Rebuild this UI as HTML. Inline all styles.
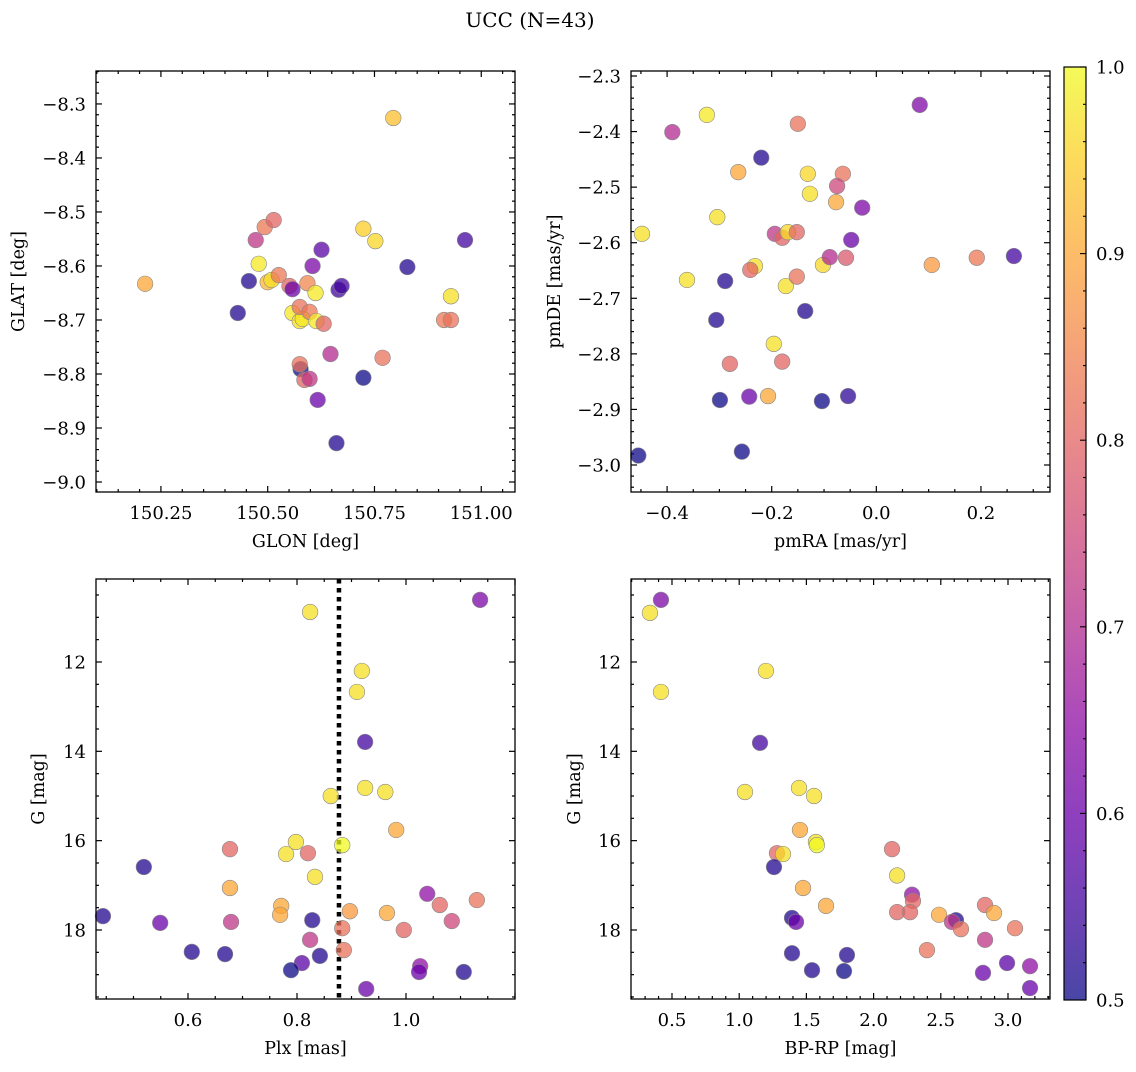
<!DOCTYPE html>
<html><head><meta charset="utf-8"><style>
html,body{margin:0;padding:0;background:#fff}
svg text{font-family:"DejaVu Serif","Liberation Serif",serif;fill:#000}
</style></head><body>
<svg id="chart" width="1136" height="1067" viewBox="0 0 1136 1067" xmlns="http://www.w3.org/2000/svg">
<defs>
<linearGradient id="plasma" x1="0" y1="1" x2="0" y2="0">
<stop offset="0" stop-color="#0d0887"/><stop offset="0.1" stop-color="#41049d"/><stop offset="0.2" stop-color="#6a00a8"/><stop offset="0.3" stop-color="#8f0da4"/><stop offset="0.4" stop-color="#b12a90"/><stop offset="0.5" stop-color="#cc4778"/><stop offset="0.6" stop-color="#e16462"/><stop offset="0.7" stop-color="#f2844b"/><stop offset="0.8" stop-color="#fca636"/><stop offset="0.9" stop-color="#fcce25"/><stop offset="1" stop-color="#f0f921"/>
</linearGradient>
</defs>
<text x="530" y="27" font-size="20" text-anchor="middle">UCC (N=43)</text>
</svg>
<script>
// ---- data ----
const tlGlon=[150.213,150.794,150.472,150.493,150.514,150.456,150.430,150.479,150.500,150.509,150.526,150.551,150.558,150.558,150.575,150.582,150.575,150.593,150.598,150.605,150.612,150.614,150.631,150.626,150.666,150.673,150.724,150.752,150.827,150.962,150.929,150.913,150.929,150.647,150.577,150.575,150.586,150.598,150.769,150.724,150.617,150.661];
const tlGlat=[-8.633,-8.326,-8.552,-8.528,-8.515,-8.628,-8.687,-8.596,-8.630,-8.626,-8.617,-8.637,-8.643,-8.687,-8.702,-8.698,-8.676,-8.632,-8.685,-8.600,-8.650,-8.702,-8.707,-8.570,-8.644,-8.637,-8.531,-8.554,-8.602,-8.552,-8.656,-8.700,-8.700,-8.763,-8.791,-8.782,-8.811,-8.809,-8.770,-8.807,-8.848,-8.928];
const tlProb=[0.9,0.93,0.72,0.83,0.8,0.52,0.52,0.98,0.92,0.97,0.83,0.8,0.6,0.98,0.97,0.98,0.82,0.85,0.83,0.62,0.98,0.98,0.8,0.58,0.55,0.55,0.95,0.96,0.52,0.55,0.97,0.83,0.82,0.7,0.5,0.82,0.8,0.72,0.82,0.5,0.6,0.52];

const trPmra=[-0.324,-0.390,0.083,-0.150,-0.220,-0.264,-0.131,-0.127,-0.064,-0.077,-0.075,-0.027,-0.448,-0.304,-0.362,-0.289,-0.232,-0.241,-0.194,-0.180,-0.169,-0.152,-0.173,-0.152,-0.102,-0.089,-0.058,-0.048,0.106,0.192,0.263,-0.306,-0.136,-0.196,-0.280,-0.180,-0.207,-0.243,-0.299,-0.054,-0.104,-0.455,-0.257];
const trPmde=[-2.370,-2.401,-2.352,-2.386,-2.447,-2.473,-2.476,-2.512,-2.476,-2.527,-2.498,-2.537,-2.584,-2.554,-2.667,-2.669,-2.642,-2.649,-2.584,-2.591,-2.581,-2.581,-2.678,-2.661,-2.640,-2.626,-2.627,-2.595,-2.640,-2.627,-2.624,-2.739,-2.723,-2.782,-2.818,-2.814,-2.876,-2.877,-2.883,-2.876,-2.885,-2.983,-2.976];
const trProb=[0.98,0.7,0.63,0.82,0.52,0.9,0.96,0.97,0.82,0.9,0.75,0.62,0.97,0.97,0.97,0.52,0.97,0.8,0.72,0.8,0.96,0.8,0.97,0.82,0.96,0.7,0.78,0.6,0.88,0.83,0.55,0.52,0.52,0.97,0.8,0.8,0.9,0.6,0.5,0.53,0.5,0.5,0.5];

const blPlx=[0.824,1.136,0.919,0.910,0.925,0.862,0.925,0.962,0.982,0.798,0.780,0.820,0.883,0.677,0.833,0.519,0.677,0.771,0.769,1.039,0.444,0.549,0.679,0.828,0.897,0.965,1.062,1.084,1.130,0.883,0.996,0.824,0.607,0.668,0.886,0.842,0.809,0.789,1.026,1.024,1.106,0.927];
const blG=[10.88,10.61,12.20,12.67,13.79,15.00,14.82,14.91,15.76,16.03,16.30,16.28,16.10,16.19,16.81,16.59,17.06,17.46,17.66,17.19,17.69,17.84,17.82,17.78,17.58,17.62,17.44,17.80,17.33,17.96,18.00,18.22,18.49,18.54,18.45,18.58,18.74,18.90,18.81,18.94,18.94,19.32];
const blProb=[0.97,0.62,0.97,0.97,0.55,0.97,0.97,0.97,0.9,0.97,0.97,0.8,1.0,0.8,0.97,0.52,0.9,0.9,0.9,0.65,0.52,0.6,0.72,0.52,0.88,0.9,0.8,0.75,0.82,0.82,0.8,0.72,0.52,0.52,0.82,0.52,0.58,0.5,0.65,0.6,0.52,0.6];
const plxMedian=0.877;

const brBpRp=[0.336,0.418,0.418,1.199,1.155,1.043,1.445,1.557,1.452,1.571,1.578,1.281,1.326,2.137,2.175,1.259,1.475,1.646,2.286,2.293,2.487,2.175,2.271,2.829,2.896,2.613,2.583,1.393,1.423,2.650,3.052,2.829,2.397,1.393,1.802,2.993,1.780,1.542,2.814,3.164,3.164];
const brG=[10.90,10.61,12.67,12.20,13.81,14.91,14.82,15.00,15.76,16.03,16.10,16.28,16.30,16.19,16.78,16.59,17.06,17.46,17.21,17.35,17.66,17.60,17.60,17.44,17.62,17.78,17.82,17.73,17.82,17.98,17.96,18.22,18.45,18.52,18.56,18.74,18.92,18.90,18.96,18.81,19.30];
const brProb=[0.97,0.62,0.97,0.97,0.55,0.97,0.97,0.97,0.9,0.97,1.0,0.8,0.97,0.8,0.97,0.52,0.9,0.9,0.65,0.8,0.9,0.8,0.8,0.8,0.9,0.52,0.72,0.52,0.6,0.82,0.82,0.72,0.82,0.52,0.52,0.58,0.5,0.52,0.6,0.65,0.6];

const cbTicks=[0.5,0.6,0.7,0.8,0.9,1.0];

// ---- rendering ----
const NS="http://www.w3.org/2000/svg";
const svg=document.getElementById('chart');
function mk(tag,attrs,parent){const e=document.createElementNS(NS,tag);for(const k in attrs)e.setAttribute(k,attrs[k]);(parent||svg).appendChild(e);return e;}
const stops=[[13,8,135],[65,4,157],[106,0,168],[143,13,164],[177,42,144],[204,71,120],[225,100,98],[242,132,75],[252,166,54],[252,206,37],[240,249,33]];
function plasma(p){let t=Math.max(0,Math.min(1,(p-0.5)/0.5))*10;const i=Math.min(9,Math.floor(t)),f=t-i;const a=stops[i],b=stops[i+1];return 'rgb('+a.map((v,k)=>Math.round(v+(b[k]-v)*f)).join(',')+')';}
function fmt(v,d){const s=Math.abs(v).toFixed(d);return (v<-1e-9?'\u2212':'')+s;}
const FS=18;

function panel(o){
  const g=mk('g',{});
  
  
  const [L,T,R,B]=o.box;
  const sx=v=>L+(v-o.xd[0])/(o.xd[1]-o.xd[0])*(R-L);
  const sy=o.yinv?(v=>T+(v-o.yd[0])/(o.yd[1]-o.yd[0])*(B-T)):(v=>B-(v-o.yd[0])/(o.yd[1]-o.yd[0])*(B-T));
  const eps=1e-9;
  const tg=mk('g',{stroke:'#000','stroke-width':1.2},g);
  const xlo=Math.min(...o.xd),xhi=Math.max(...o.xd),ylo=Math.min(...o.yd),yhi=Math.max(...o.yd);
  for(let v=Math.ceil(xlo/o.xmin)*o.xmin;v<=xhi+eps;v+=o.xmin){const x=sx(v);const major=Math.abs(v/o.xmaj-Math.round(v/o.xmaj))<1e-6;const l=major?6:3;mk('line',{x1:x,y1:B,x2:x,y2:B-l},tg);mk('line',{x1:x,y1:T,x2:x,y2:T+l},tg);}
  for(let v=Math.ceil(ylo/o.ymin)*o.ymin;v<=yhi+eps;v+=o.ymin){const y=sy(v);const major=Math.abs(v/o.ymaj-Math.round(v/o.ymaj))<1e-6;const l=major?6:3;mk('line',{x1:L,y1:y,x2:L+l,y2:y},tg);mk('line',{x1:R,y1:y,x2:R-l,y2:y},tg);}
  o.xt.forEach(v=>{const t=mk('text',{x:sx(v),y:B+27,'font-size':FS,'text-anchor':'middle'},g);t.textContent=fmt(v,o.xdp);});
  o.yt.forEach(v=>{const t=mk('text',{x:L-10,y:sy(v)+6.5,'font-size':FS,'text-anchor':'end'},g);t.textContent=fmt(v,o.ydp);});
  const xl=mk('text',{x:(L+R)/2,y:B+55,'font-size':17.5,'text-anchor':'middle'},g);xl.textContent=o.xlab;
  
  const yx=o.ylx,yy=(T+B)/2;
  const yl=mk('text',{x:yx,y:yy,'font-size':17.5,'text-anchor':'middle',transform:'rotate(-90 '+yx+' '+yy+')'},g);yl.textContent=o.ylab;
  
  if(o.vline!==undefined){const vl=mk('line',{x1:sx(o.vline),y1:T,x2:sx(o.vline),y2:B,stroke:'#000','stroke-width':4.5,'stroke-dasharray':'4.5,4.5'},g);}
  const pg=mk('g',{},g);
  o.xs.forEach((xv,i)=>{const c=mk('circle',{cx:sx(xv),cy:sy(o.ys[i]),r:7.8,fill:plasma(o.ps[i]),'fill-opacity':0.75,stroke:'#888','stroke-width':0.6},pg);
    
    });
  const fr=mk('rect',{x:L,y:T,width:R-L,height:B-T,fill:'none',stroke:'#000','stroke-width':1.3},g);
  
}

panel({name:'panel-glon-glat',box:[96,71,515,492],xd:[150.098,151.079],yd:[-9.0185,-8.239],xt:[150.25,150.5,150.75,151.0],xdp:2,yt:[-9.0,-8.9,-8.8,-8.7,-8.6,-8.5,-8.4,-8.3],ydp:1,xmaj:0.25,xmin:0.05,ymaj:0.1,ymin:0.02,xlab:'GLON [deg]',ylab:'GLAT [deg]',ylx:24,xs:tlGlon,ys:tlGlat,ps:tlProb});
panel({name:'panel-pmra-pmde',box:[631,71,1050,492],xd:[-0.469,0.332],yd:[-3.0486,-2.291],xt:[-0.4,-0.2,0.0,0.2],xdp:1,yt:[-3.0,-2.9,-2.8,-2.7,-2.6,-2.5,-2.4,-2.3],ydp:1,xmaj:0.2,xmin:0.05,ymaj:0.1,ymin:0.02,xlab:'pmRA [mas/yr]',ylab:'pmDE [mas/yr]',ylx:560,xs:trPmra,ys:trPmde,ps:trProb});
panel({name:'panel-plx-g',box:[96,579,515,999],xd:[0.4312,1.2],yd:[10.142,19.545],yinv:true,xt:[0.6,0.8,1.0],xdp:1,yt:[12,14,16,18],ydp:0,xmaj:0.2,xmin:0.05,ymaj:2,ymin:0.5,xlab:'Plx [mas]',ylab:'G [mag]',ylx:44,xs:blPlx,ys:blG,ps:blProb,vline:plxMedian});
panel({name:'panel-bprp-g',box:[631,579,1050,999],xd:[0.195,3.3125],yd:[10.142,19.545],yinv:true,xt:[0.5,1.0,1.5,2.0,2.5,3.0],xdp:1,yt:[12,14,16,18],ydp:0,xmaj:0.5,xmin:0.1,ymaj:2,ymin:0.5,xlab:'BP-RP [mag]',ylab:'G [mag]',ylx:580,xs:brBpRp,ys:brG,ps:brProb});

// colorbar
const cb=mk('g',{});


const cT=67,cB=1000,cL=1064,cR=1086;
mk('rect',{x:cL,y:cT,width:cR-cL,height:cB-cT,fill:'url(#plasma)','fill-opacity':0.75},cb);
mk('rect',{x:cL,y:cT,width:cR-cL,height:cB-cT,fill:'none',stroke:'#000','stroke-width':1.2},cb);
const cy=v=>cB-(v-0.5)/0.5*(cB-cT);
for(let v=0.5;v<=1.0001;v+=0.02){const major=Math.abs(v*10-Math.round(v*10))<1e-6;mk('line',{x1:cR,y1:cy(v),x2:cR-(major?6:3),y2:cy(v),stroke:'#000','stroke-width':1.1},cb);}
cbTicks.forEach(v=>{const t=mk('text',{x:cR+10,y:cy(v)+6.5,'font-size':FS},cb);t.textContent=v.toFixed(1);
  
  });
</script>
</body></html>
